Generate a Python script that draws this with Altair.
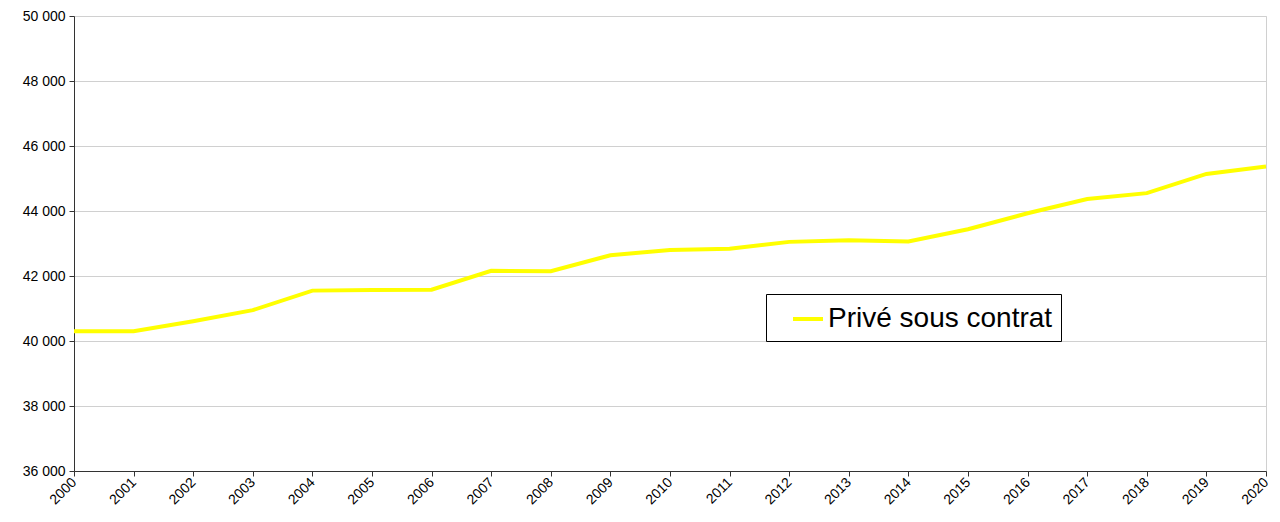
import altair as alt
import pandas as pd

years = list(range(2000, 2021))
values = [40300, 40300, 40610, 40950, 41550, 41570, 41580, 42160, 42150, 42640,
          42800, 42840, 43050, 43100, 43060, 43440, 43930, 44370, 44550, 45140, 45370]
series = ["Privé sous contrat"] * len(years)

df = pd.DataFrame({"annee": years, "effectif": values, "serie": series})

fmt = "replace(format(datum.value, ','), ',', ' ')"

chart = alt.Chart(df).mark_line(strokeWidth=4, strokeJoin="miter").encode(
    x=alt.X("annee:Q",
            scale=alt.Scale(domain=[2000, 2020], nice=False, zero=False),
            axis=alt.Axis(values=years, format="d", labelAngle=-45, labelAlign="right",
                          labelBaseline="middle", grid=False, title=None,
                          labelFontSize=14, labelColor="#000", labelFont="Liberation Sans",
                          domainColor="#333", tickColor="#333", tickSize=5,
                          labelPadding=4, labelFlush=False, labelOverlap=False)),
    y=alt.Y("effectif:Q",
            scale=alt.Scale(domain=[36000, 50000], nice=False, zero=False),
            axis=alt.Axis(values=list(range(36000, 50001, 2000)), labelExpr=fmt,
                          grid=True, gridColor="#d0d0d0", title=None,
                          labelFontSize=14, labelColor="#000", labelFont="Liberation Sans",
                          domainColor="#333", tickColor="#333", tickSize=5,
                          labelPadding=4)),
    color=alt.Color("serie:N",
                    scale=alt.Scale(range=["#FFFF00"]),
                    legend=alt.Legend(title=None, orient="none", legendX=692, legendY=278,
                                      symbolType="stroke", symbolSize=900,
                                      symbolStrokeWidth=4, labelFontSize=28,
                                      labelFont="Liberation Sans", labelColor="#000",
                                      labelLimit=0, symbolOffset=17,
                                      strokeColor="#000", fillColor="#fff",
                                      padding=8, labelOffset=3)),
).properties(
    width=1192, height=455,
    padding={"left": 66, "top": 8, "right": 6, "bottom": 40},
    autosize=alt.AutoSizeParams(type="none"),
).configure_view(stroke="#d0d0d0")

chart.save("out.html", embed_options={"renderer": "svg", "actions": False})
